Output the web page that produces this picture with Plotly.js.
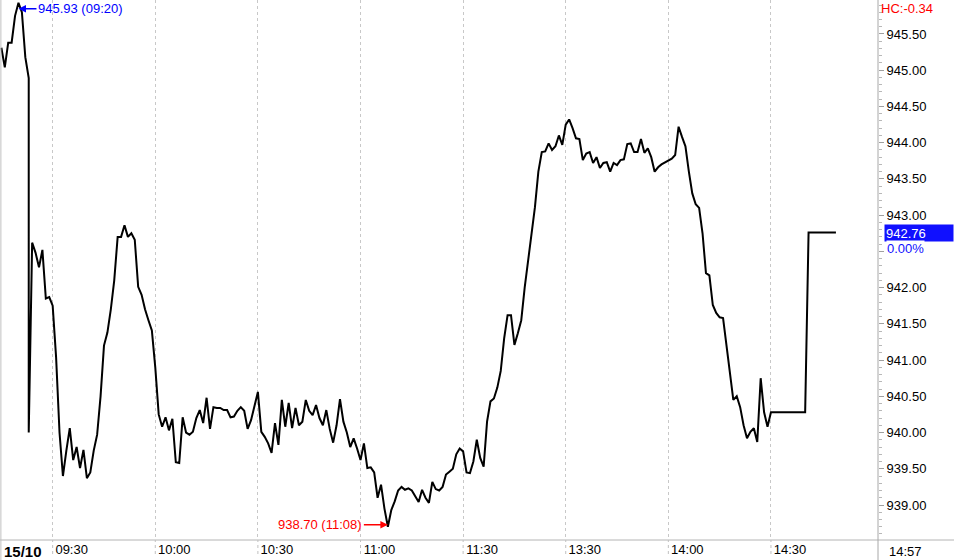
<!DOCTYPE html>
<html><head><meta charset="utf-8">
<script src="https://cdn.plot.ly/plotly-3.0.1.min.js"></script>
<style>html,body{margin:0;padding:0;background:#fff}#chart{width:954px;height:560px}</style>
</head><body><div id="chart"></div>
<script>
const times = [
"09:15","09:16","09:17","09:18","09:19","09:20","09:21","09:22","09:23","09:23","09:24","09:25","09:26","09:27","09:28","09:29",
"09:30","09:31","09:32","09:33","09:34","09:35","09:36","09:37","09:38","09:39","09:40","09:41","09:42","09:43","09:44",
"09:45","09:46","09:47","09:48","09:49","09:50","09:51","09:52","09:53","09:54","09:55","09:56","09:57","09:58","09:59",
"10:00","10:01","10:02","10:03","10:04","10:05","10:06","10:07","10:08","10:09","10:10","10:11","10:12","10:13","10:14",
"10:15","10:16","10:17","10:18","10:19","10:20","10:21","10:22","10:23","10:24","10:25","10:26","10:27","10:28","10:29",
"10:30","10:31","10:32","10:33","10:34","10:35","10:36","10:37","10:38","10:39","10:40","10:41","10:42","10:43","10:44",
"10:45","10:46","10:47","10:48","10:49","10:50","10:51","10:52","10:53","10:54","10:55","10:56","10:57","10:58","10:59",
"11:00","11:01","11:02","11:03","11:04","11:05","11:06","11:07","11:08","11:09","11:10","11:11","11:12","11:13","11:14",
"11:15","11:16","11:17","11:18","11:19","11:20","11:21","11:22","11:23","11:24","11:25","11:26","11:27","11:28","11:29","11:30",
"13:01","13:02","13:03","13:04","13:05","13:06","13:07","13:08","13:09","13:10","13:11","13:12","13:13","13:14",
"13:15","13:16","13:17","13:18","13:19","13:20","13:21","13:22","13:23","13:24","13:25","13:26","13:27","13:28","13:29",
"13:30","13:31","13:32","13:33","13:34","13:35","13:36","13:37","13:38","13:39","13:40","13:41","13:42","13:43","13:44",
"13:45","13:46","13:47","13:48","13:49","13:50","13:51","13:52","13:53","13:54","13:55","13:56","13:57","13:58","13:59",
"14:00","14:01","14:02","14:03","14:04","14:05","14:06","14:07","14:08","14:09","14:10","14:11","14:12","14:13","14:14",
"14:15","14:16","14:17","14:18","14:19","14:20","14:21","14:22","14:23","14:24","14:25","14:26","14:27","14:28","14:29",
"14:30","14:40","14:41","14:49"
];
const prices = [
945.31,945.04,945.38,945.38,945.75,945.93,945.80,945.18,944.89,940.00,942.62,942.48,942.28,942.52,941.85,941.87,
941.75,941.04,940.00,939.40,939.75,940.06,939.62,939.80,939.51,939.76,939.37,939.45,939.75,939.97,940.50,
941.20,941.38,941.70,942.10,942.70,942.70,942.86,942.70,942.75,942.66,942.01,941.90,941.70,941.55,941.41,
940.90,940.25,940.08,940.21,940.03,940.19,939.59,939.58,940.21,940.00,939.97,940.01,940.20,940.31,940.13,
940.48,940.05,940.35,940.34,940.34,940.31,940.31,940.21,940.22,940.30,940.35,940.30,940.05,940.17,940.35,
940.56,940.01,939.94,939.85,939.72,940.13,939.83,940.45,940.08,940.41,940.06,940.34,940.10,940.15,940.45,
940.30,940.24,940.38,940.20,940.10,940.31,940.05,939.86,940.10,940.46,940.15,940.00,939.80,939.92,939.78,
939.62,939.85,939.51,939.52,939.45,939.10,939.28,938.95,938.70,938.93,939.05,939.20,939.25,939.21,939.23,
939.20,939.12,939.04,939.21,939.10,939.03,939.32,939.22,939.20,939.25,939.42,939.46,939.50,939.70,939.78,939.74,
939.45,939.44,939.60,939.90,939.65,939.53,940.15,940.43,940.47,940.62,940.85,941.30,941.62,941.62,
941.21,941.37,941.55,942.00,942.35,942.75,943.11,943.60,943.87,943.88,943.99,943.90,943.95,944.10,943.97,
944.25,944.32,944.20,944.06,944.05,943.76,943.85,943.87,943.72,943.80,943.65,943.72,943.73,943.60,943.72,
943.69,943.76,943.77,943.98,943.99,943.87,943.87,944.05,943.86,943.92,943.80,943.60,943.66,943.70,943.73,
943.76,943.78,943.83,944.22,944.08,943.95,943.60,943.30,943.15,943.10,942.75,942.20,942.17,941.76,941.65,
941.59,941.58,941.20,940.80,940.45,940.50,940.35,940.10,939.92,940.01,940.06,939.87,940.75,940.28,940.08,
940.28,940.28,942.76,942.76
];
const tickLabels = ["09:30","10:00","10:30","11:00","11:30","13:30","14:00","14:30"];
const yTicks = [939.0,939.5,940.0,940.5,941.0,941.5,942.0,942.5,943.0,943.5,944.0,944.5,945.0,945.5];
const hiddenYLabel = 942.5; // covered by the change-percent box in the reference
const highTime = "09:20", highPrice = 945.93;
const lowTime = "11:08", lowPrice = 938.70;
const lastPrice = 942.76, changePct = "0.00%", hcText = "HC:-0.34";
const dateLabel = "15/10", clockLabel = "14:57";

// session minute index: morning 09:15-11:30, afternoon resumes right after 11:30 at 13:00
function minuteIndex(t){
  const p = t.split(':').map(Number);
  const mins = p[0]*60 + p[1];
  return p[0] < 12 ? mins - (9*60+15) : mins - 13*60 + 135;
}
const xs = times.map(minuteIndex);
const tickVals = tickLabels.map(minuteIndex);
const yTickText = yTicks.map(v => v === hiddenYLabel ? '' : v.toFixed(2));

const FONT = "Liberation Sans, Arial, sans-serif";
const FS = 13;
const trace = {
  x: xs, y: prices, type: 'scatter', mode: 'lines',
  line: {color: '#000000', width: 2},
  hoverinfo: 'skip'
};

const plotW = 878, plotH = 540;
const shapes = [
  {type:'line', xref:'paper', yref:'paper', x0:0, x1:954/plotW, y0:0, y1:0, line:{color:'#b4b4b4', width:1}},
  {type:'line', xref:'paper', yref:'paper', x0:1, x1:1, y0:-20/plotH, y1:1, line:{color:'#a8a8a8', width:1}},
  {type:'line', xref:'paper', yref:'paper', x0:0.001, x1:0.001, y0:-20/plotH, y1:1, line:{color:'#c0c0c0', width:1}}
];
tickVals.forEach(v => shapes.push({type:'line', xref:'x', yref:'paper', x0:v, x1:v, y0:-14/plotH, y1:0, line:{color:'#c0c0c0', width:1, dash:'dot'}}));

const annotations = [
  {x: minuteIndex(highTime), y: highPrice, xref:'x', yref:'y', text: highPrice.toFixed(2)+' ('+highTime+')',
   showarrow:true, arrowhead:2, arrowsize:1, arrowwidth:1.5, arrowcolor:'#0000ff', ax:18, ay:0, xanchor:'left', yshift:-6,
   font:{family:FONT, size:FS, color:'#0000ff'}},
  {x: minuteIndex(lowTime), y: lowPrice, xref:'x', yref:'y', text: lowPrice.toFixed(2)+' ('+lowTime+')',
   showarrow:true, arrowhead:2, arrowsize:1, arrowwidth:1.5, arrowcolor:'#ff0000', ax:-24, ay:0, xanchor:'right', yshift:2,
   font:{family:FONT, size:FS, color:'#ff0000'}},
  {x: 879/plotW, y: 1-8/plotH, xref:'paper', yref:'paper', text: hcText, showarrow:false, xanchor:'left', yanchor:'middle',
   font:{family:FONT, size:FS, color:'#ff0000'}},
  {x: 884/plotW, y: lastPrice, xref:'paper', yref:'y', text: lastPrice.toFixed(2), showarrow:false, xanchor:'left', yanchor:'middle',
   bgcolor:'#1010ff', width:66, height:14, align:'left', borderpad:1,
   font:{family:FONT, size:FS, color:'#ffffff'}},
  {x: 886/plotW, y: 1-248/plotH, xref:'paper', yref:'paper', text: changePct, showarrow:false, xanchor:'left', yanchor:'middle',
   bgcolor:'#ffffff', borderpad:0,
   font:{family:FONT, size:FS, color:'#1010ff'}},
  {x: 2/plotW, y: -11/plotH, xref:'paper', yref:'paper', text: '<b>'+dateLabel+'</b>', showarrow:false, xanchor:'left', yanchor:'middle',
   font:{family:FONT, size:15, color:'#000000'}},
  {x: 887/plotW, y: -11/plotH, xref:'paper', yref:'paper', text: clockLabel, showarrow:false, xanchor:'left', yanchor:'middle',
   font:{family:FONT, size:FS, color:'#000000'}}
];

const layout = {
  width: 954, height: 560,
  margin: {l:0, r:76, t:0, b:20, pad:0},
  paper_bgcolor: '#ffffff', plot_bgcolor: '#ffffff',
  showlegend: false,
  font: {family: FONT, size: FS, color: '#000000'},
  xaxis: {
    range: [-0.4, 256.3], tickmode: 'array', tickvals: tickVals, ticktext: tickLabels,
    showgrid: true, gridcolor: '#c8c8c8', griddash: 'dot', gridwidth: 1,
    zeroline: false, showline: false, ticks: '', ticklabelshift: 19,
    tickfont: {family: FONT, size: FS, color: '#000000'}, fixedrange: true
  },
  yaxis: {
    side: 'right', range: [938.517, 945.969], tickmode: 'array', tickvals: yTicks, ticktext: yTickText,
    showgrid: false, zeroline: false, showline: false,
    ticks: 'outside', ticklen: 5, tickcolor: '#a0a0a0', tickwidth: 1,
    minor: {dtick: 0.1, tick0: 939, ticks: 'outside', ticklen: 3, tickcolor: '#b8b8b8', showgrid: false},
    tickfont: {family: FONT, size: FS, color: '#000000'}, fixedrange: true
  },
  shapes: shapes,
  annotations: annotations
};

Plotly.newPlot('chart', [trace], layout, {displayModeBar: false, staticPlot: true});
</script>
</body></html>
